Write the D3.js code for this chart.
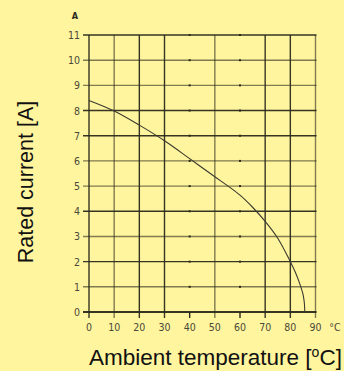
<!DOCTYPE html>
<html><head><meta charset="utf-8">
<script src="https://cdn.jsdelivr.net/npm/d3@7"></script>
<style>
html,body{margin:0;padding:0;background:#fff59e;}
svg{display:block;}
</style></head>
<body>
<script>
// Data
const temps    = [0, 10, 20, 30, 40, 50, 55, 60, 65, 70, 75, 80, 82, 84, 85, 85.5, 85.7, 85.7];
const currents = [8.4, 7.98, 7.42, 6.8, 6.09, 5.37, 5.02, 4.64, 4.16, 3.6, 2.93, 2.0, 1.58, 1.05, 0.72, 0.42, 0.15, 0];
const xTicks = [0,10,20,30,40,50,60,70,80,90];
const xTickLabels = ["0","10","20","30","40","50","60","70","80","90"];
const yTicks = [0,1,2,3,4,5,6,7,8,9,10,11];
const xGridSolid = [0,10,20,30,50,70,80,90];
const xGridDots = [40,60];

const W=344, H=371;
const svg = d3.select("body").append("svg").attr("width",W).attr("height",H);
svg.append("rect").attr("width",W).attr("height",H).attr("fill","#fff59e");

const x = d3.scaleLinear().domain([0,90]).range([89,315.5]);
const y = d3.scaleLinear().domain([0,11]).range([312,35]);

const gridCol = "#2b2a1c";
// horizontal gridlines
svg.append("g").selectAll("line").data(yTicks).join("line")
  .attr("x1",x(0)-6).attr("x2",x(90)+1)
  .attr("y1",d=>y(d)).attr("y2",d=>y(d))
  .attr("stroke",gridCol).attr("stroke-width",d=>d===0?2.2:1.4)
  .attr("stroke-opacity",d=>(d===0||d===11||d===8||d===7||d===4||d===2)?0.95:0.6);
// vertical gridlines
svg.append("g").selectAll("line").data(xGridSolid).join("line")
  .attr("x1",d=>x(d)).attr("x2",d=>x(d))
  .attr("y1",y(11)).attr("y2",y(0)+6)
  .attr("stroke",gridCol).attr("stroke-width",1.4)
  .attr("stroke-opacity",d=>(d===10||d===50||d===90)?0.6:0.95);
// tick stubs and dots for 40 & 60
xGridDots.forEach(t=>{
  svg.append("line").attr("x1",x(t)).attr("x2",x(t)).attr("y1",y(0)).attr("y2",y(0)+6)
    .attr("stroke",gridCol).attr("stroke-width",1.4);
  svg.append("g").selectAll("rect").data(yTicks.filter(v=>v>0)).join("rect")
    .attr("x",x(t)-1).attr("y",d=>y(d)-1).attr("width",2).attr("height",2)
    .attr("fill",gridCol);
});

// tick labels
const lblFont = "'DejaVu Sans Condensed','Liberation Sans Narrow',sans-serif";
svg.append("g").selectAll("text").data(yTicks).join("text")
  .attr("x",80).attr("y",d=>y(d)+4).attr("text-anchor","end")
  .attr("font-family",lblFont).attr("font-size",10.5).attr("fill","#4a4838")
  .text(d=>d);
svg.append("g").selectAll("text").data(xTicks).join("text")
  .attr("x",d=>x(d)).attr("y",331).attr("text-anchor","middle")
  .attr("font-family",lblFont).attr("font-size",10.5).attr("fill","#4a4838")
  .text((d,i)=>xTickLabels[i]);
svg.append("text").attr("x",335).attr("y",331).attr("text-anchor","middle")
  .attr("font-family",lblFont).attr("font-size",10.5).attr("fill","#4a4838").text("°C");
svg.append("text").attr("x",75).attr("y",19).attr("text-anchor","middle")
  .attr("font-family",lblFont).attr("font-size",9).attr("font-weight","bold").attr("fill","#2a2a20").text("A");

// curve
svg.append("path").datum(currents).attr("d",d3.line().x((d,i)=>x(temps[i])).y(d=>y(d)).curve(d3.curveCatmullRom.alpha(0.5)))
  .attr("fill","none").attr("stroke","#3a3a30").attr("stroke-width",1.1);

// axis titles
svg.append("text").attr("transform","translate(33,182) rotate(-90)")
  .attr("text-anchor","middle").attr("font-family","'Liberation Sans',Arial,sans-serif")
  .attr("font-size",21.5).attr("fill","#111").text("Rated current [A]");
const xt = svg.append("text").attr("x",89).attr("y",365)
  .attr("font-family","'Liberation Sans',Arial,sans-serif")
  .attr("font-size",22.5).attr("fill","#111");
xt.append("tspan").text("Ambient temperature [");
xt.append("tspan").attr("font-size",14).attr("dy",-8).text("o");
xt.append("tspan").attr("dy",8).text("C]");
</script>
</body></html>
